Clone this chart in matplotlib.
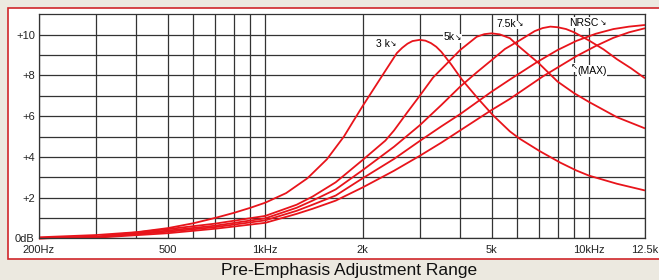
import numpy as np
import matplotlib
matplotlib.use('Agg')
import matplotlib.pyplot as plt
from matplotlib.patches import Rectangle

plt.rcParams['font.family'] = ['Liberation Sans', 'DejaVu Sans']

# frequency (Hz) / level (dB)
freq_3k = [200, 300, 400, 500, 600, 700, 800, 900, 1000, 1160, 1350, 1550, 1750, 1870, 2000,
           2300, 2550, 2650, 2750, 2850, 3000, 3125, 3250, 3375, 3500, 3750, 4050, 4550, 5050,
           5700, 6100, 7050, 8150, 9150, 10000, 12200, 14900]
db_3k = [0.05, 0.16, 0.3, 0.5, 0.74, 1.0, 1.25, 1.5, 1.75, 2.22, 2.95, 3.88, 5.0, 5.75, 6.5,
         8.0, 9.1, 9.36, 9.56, 9.69, 9.75, 9.71, 9.59, 9.41, 9.16, 8.55, 7.8, 6.85, 6.05,
         5.25, 4.9, 4.28, 3.72, 3.33, 3.08, 2.68, 2.35]

freq_5k = [200, 300, 500, 700, 1000, 1250, 1400, 1650, 2000, 2350, 2500, 2750, 3000, 3300,
           3700, 4000, 4500, 4750, 5000, 5300, 5700, 6000, 7000, 8000, 9000, 10000, 12200, 14900]
db_5k = [0.0, 0.08, 0.45, 0.72, 1.1, 1.65, 2.05, 2.75, 3.85, 4.8, 5.3, 6.2, 7.0, 7.9,
         8.7, 9.25, 9.9, 10.03, 10.07, 10.02, 9.83, 9.5, 8.6, 7.7, 7.13, 6.7, 5.95, 5.4]

freq_75k = [200, 300, 500, 700, 1000, 1250, 1400, 1650, 2000, 2500, 3000, 3500, 4000, 4500,
            5000, 5500, 6100, 6800, 7200, 7600, 8000, 8500, 9000, 10000, 11100, 12200, 13500,
            14900]
db_75k = [0.0, 0.06, 0.38, 0.62, 0.98, 1.5, 1.85, 2.4, 3.35, 4.5, 5.55, 6.55, 7.45, 8.15,
          8.75, 9.3, 9.72, 10.18, 10.33, 10.4, 10.37, 10.28, 10.12, 9.72, 9.28, 8.8, 8.35,
          7.86]

freq_nrsc = [200, 300, 500, 700, 1000, 1250, 1400, 1650, 2000, 2500, 3000, 3500, 4000, 5000,
             5700, 6900, 8000, 9150, 10500, 11900, 13300, 14900]
db_nrsc = [0.0, 0.05, 0.32, 0.55, 0.88, 1.35, 1.65, 2.1, 2.95, 3.9, 4.78, 5.5, 6.1, 7.2,
           7.8, 8.65, 9.25, 9.7, 10.05, 10.28, 10.4, 10.48]

freq_max = [200, 300, 500, 700, 1000, 1250, 1400, 1650, 2000, 2500, 3000, 3500, 4000, 5000,
            5700, 7200, 9150, 10500, 11900, 13300, 14900]
db_max = [0.0, 0.03, 0.25, 0.47, 0.76, 1.2, 1.45, 1.85, 2.5, 3.32, 4.05, 4.7, 5.3, 6.3,
          6.85, 7.95, 8.95, 9.45, 9.85, 10.12, 10.32]

x_ticks = [200, 500, 1000, 2000, 5000, 10000, 14900]
x_labels = ['200Hz', '500', '1kHz', '2k', '5k', '10kHz', '12.5k']
x_minor = [300, 400, 600, 700, 800, 900, 3000, 4000, 6000, 7000, 8000, 9000]
y_ticks = [0, 2, 4, 6, 8, 10]
y_labels = ['0dB', '+2', '+4', '+6', '+8', '+10']
y_minor = [1, 3, 5, 7, 9]

bg = '#ECE9E0'
red = '#E8141B'

fig = plt.figure(figsize=(6.59, 2.8), dpi=100, facecolor=bg)
W, H = 659.0, 280.0
panel = Rectangle((7.5/W, 21.5/H), (700-7.5)/W, (271.5-21.5)/H, transform=fig.transFigure,
                  facecolor='white', edgecolor='#D0262A', lw=1.2, zorder=-5)
fig.patches.append(panel)

ax = fig.add_axes([39/W, 1-238.3/H, (645-39)/W, (238.3-14)/H])
ax.set_xscale('log')
ax.set_xlim(200, 14900)
ax.set_ylim(0, 11.02)

ax.set_xticks(x_ticks)
ax.set_xticklabels(x_labels)
ax.set_xticks(x_minor, minor=True)
ax.xaxis.set_minor_formatter(matplotlib.ticker.NullFormatter())
ax.set_yticks(y_ticks)
ax.set_yticklabels(y_labels)
ax.set_yticks(y_minor, minor=True)
ax.tick_params(which='both', length=0, labelsize=8, colors='#222222')
ax.tick_params(axis='x', pad=5)
ax.tick_params(axis='y', pad=3)
ax.grid(which='both', color='#333333', lw=0.9)
ax.set_axisbelow(True)
for s in ax.spines.values():
    s.set_color('#333333')
    s.set_linewidth(0.9)

for f, d in [(freq_3k, db_3k), (freq_5k, db_5k), (freq_75k, db_75k),
             (freq_nrsc, db_nrsc), (freq_max, db_max)]:
    ax.plot(f, d, color=red, lw=1.3, solid_capstyle='butt', solid_joinstyle='round',
            clip_on=False)

box = dict(facecolor='white', edgecolor='none', pad=0.4)


def curve_label(x, y, s):
    # text to the left of x, small arrow to the right
    ax.text(x, y, s, fontsize=7.5, ha='right', va='center', bbox=box)
    ax.annotate('\u2198', xy=(x, y), xytext=(0.6, -0.8), textcoords='offset points',
                fontsize=5.5, ha='left', va='center', bbox=box)


curve_label(2420, 9.57, '3 k')
curve_label(3843, 9.87, '5k')
curve_label(5951, 10.53, '7.5k')
curve_label(10740, 10.58, 'NRSC')

ax.text(9215, 8.22, '(MAX)', fontsize=7.5, ha='left', va='center', bbox=box)
ax.annotate('\u2196', xy=(9215, 8.22), xytext=(0.3, 2.5), textcoords='offset points',
            fontsize=6, ha='right', va='center', bbox=box)

fig.text(349/W, 1-270/H, 'Pre-Emphasis Adjustment Range', fontsize=12.5,
         ha='center', va='center', color='#111111')

fig.savefig('out.png', dpi=100, facecolor=fig.get_facecolor())
